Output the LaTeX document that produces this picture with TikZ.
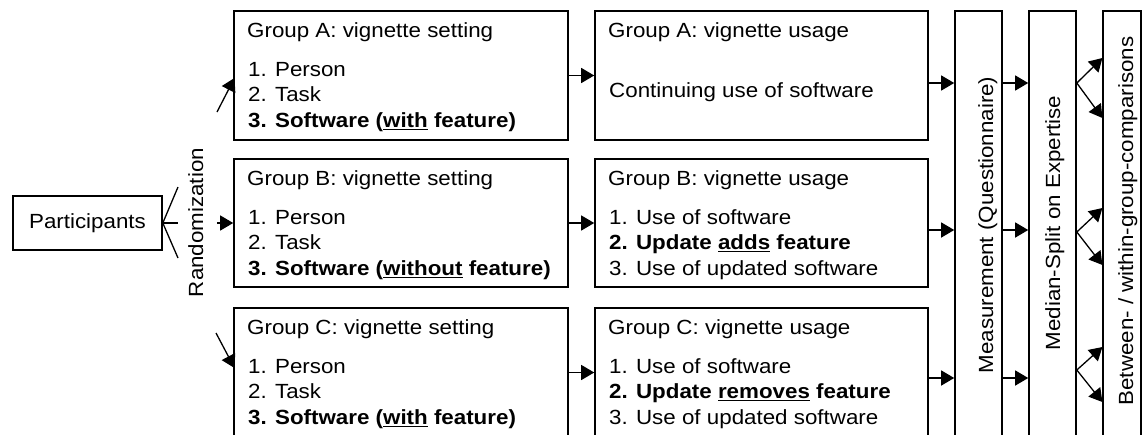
\documentclass[tikz,border=0pt]{standalone}
\usepackage{fontspec}
\usepackage{graphicx}
\setmainfont{Liberation Sans}
\usetikzlibrary{arrows.meta}
% text is set slightly wide, as in the original slide
\newcommand{\st}[1]{\scalebox{1.09}[1]{#1}}
\tikzset{
  box/.style={draw, line width=1.6pt, inner sep=0pt},
  txt/.style={anchor=base west, inner sep=0pt, font=\fontsize{20.5}{24}\selectfont},
  vtxt/.style={rotate=90, anchor=base, inner sep=0pt, font=\fontsize{20.5}{24}\selectfont},
  ln/.style={line width=1.3pt},
  arr/.style={line width=1.3pt, -{Triangle[length=13pt 0 0,width=15pt 0 0]}}
}
\begin{document}
\begin{tikzpicture}[x=1pt,y=-1pt]
\clip (0,0) rectangle (1142,434);
\fill[white] (0,0) rectangle (1142,434);

% participants
\node[box, minimum width=149pt, minimum height=54pt, font=\fontsize{20.5}{24}\selectfont] (P) at (87.5,223) {\st{Participants}};
\node[vtxt] (rand) at (203,222.5) {\st{Randomization}};

% vignette setting boxes
\node[box, minimum width=334pt, minimum height=129pt] (sA) at (401,75.5) {};
\node[box, minimum width=334pt, minimum height=128pt] (sB) at (401,223) {};
\node[box, minimum width=334pt, minimum height=132pt] (sC) at (401,374) {};

% vignette usage boxes
\node[box, minimum width=333pt, minimum height=129pt] (uA) at (761.5,75.5) {};
\node[box, minimum width=333pt, minimum height=128pt] (uB) at (761.5,223) {};
\node[box, minimum width=333pt, minimum height=132pt] (uC) at (761.5,374) {};

% tall boxes on the right
\node[box, minimum width=47pt, minimum height=430pt] (M) at (978.5,226) {};
\node[box, minimum width=47pt, minimum height=430pt] (S) at (1052.5,226) {};
\node[box, minimum width=38pt, minimum height=430pt] (W) at (1122.2,226) {};
\node[vtxt] (Mt) at (993,225) {\st{Measurement (Questionnaire)}};
\node[vtxt] (St) at (1060,223) {\st{Median-Split on Expertise}};
\node[vtxt] (Wt) at (1133,221) {\st{Between- / within-group-comparisons}};

% setting texts
\node[txt] (sA0) at (247,37.3) {\st{Group A: vignette setting}};
\node[txt] (sA1) at (248,76) {\st{1. Person}};
\node[txt] (sA2) at (248,101.7) {\st{2. Task}};
\node[txt] (sA3) at (248,127.3) {\st{\bfseries 3. Software (\underline{with} feature)}};

\node[txt] (sB0) at (247,185.3) {\st{Group B: vignette setting}};
\node[txt] (sB1) at (248,224) {\st{1. Person}};
\node[txt] (sB2) at (248,249.7) {\st{2. Task}};
\node[txt] (sB3) at (248,275.3) {\st{\bfseries 3. Software (\underline{without} feature)}};

\node[txt] (sC0) at (247,334.3) {\st{Group C: vignette setting}};
\node[txt] (sC1) at (248,373) {\st{1. Person}};
\node[txt] (sC2) at (248,398.7) {\st{2. Task}};
\node[txt] (sC3) at (248,424.3) {\st{\bfseries 3. Software (\underline{with} feature)}};

% usage texts
\node[txt] (uA0) at (608,37.3) {\st{Group A: vignette usage}};
\node[txt] (uA1) at (609,97) {\st{Continuing use of software}};

\node[txt] (uB0) at (608,185.3) {\st{Group B: vignette usage}};
\node[txt] (uB1) at (609,224) {\st{1. Use of software}};
\node[txt] (uB2) at (609,249.7) {\st{\bfseries 2. Update \underline{adds} feature}};
\node[txt] (uB3) at (609,275.3) {\st{3. Use of updated software}};

\node[txt] (uC0) at (608,334.3) {\st{Group C: vignette usage}};
\node[txt] (uC1) at (609,373) {\st{1. Use of software}};
\node[txt] (uC2) at (609,398.7) {\st{\bfseries 2. Update \underline{removes} feature}};
\node[txt] (uC3) at (609,424.3) {\st{3. Use of updated software}};

% randomization fan
\coordinate (f1) at (178,187);
\coordinate (f2) at (178,223);
\coordinate (f3) at (178,258);
\draw[ln] (P.east) -- (f1);
\draw[ln] (P.east) -- (f2);
\draw[ln] (P.east) -- (f3);

\coordinate (r1) at (217,112);
\coordinate (r2) at (217,223);
\coordinate (r3) at (216,333);
\coordinate (e1) at (234.5,78);
\coordinate (e3) at (234.5,368);
\draw[arr] (r1) -- (e1);
\draw[arr] (r2) -- (sB.west);
\draw[arr] (r3) -- (e3);

% setting -> usage
\draw[arr] (sA.east) -- (uA.west);
\draw[arr] (sB.east) -- (uB.west);
\draw[arr] (sC.east |- 0,372.5) -- (uC.west |- 0,372.5);

% usage -> measurement -> median split
\foreach \yy in {83,230,378}{
  \draw[arr] (uA.east |- 0,\yy) -- (M.west |- 0,\yy);
  \draw[arr] (M.east |- 0,\yy) -- (S.west |- 0,\yy);
}

% median split -> comparisons
\foreach \yc/\yt/\yb in {83/58/118, 232/208/265, 370/347/402}{
  \draw[arr] (S.east |- 0,\yc) -- (W.west |- 0,\yt);
  \draw[arr] (S.east |- 0,\yc) -- (W.west |- 0,\yb);
}
\end{tikzpicture}
\end{document}
